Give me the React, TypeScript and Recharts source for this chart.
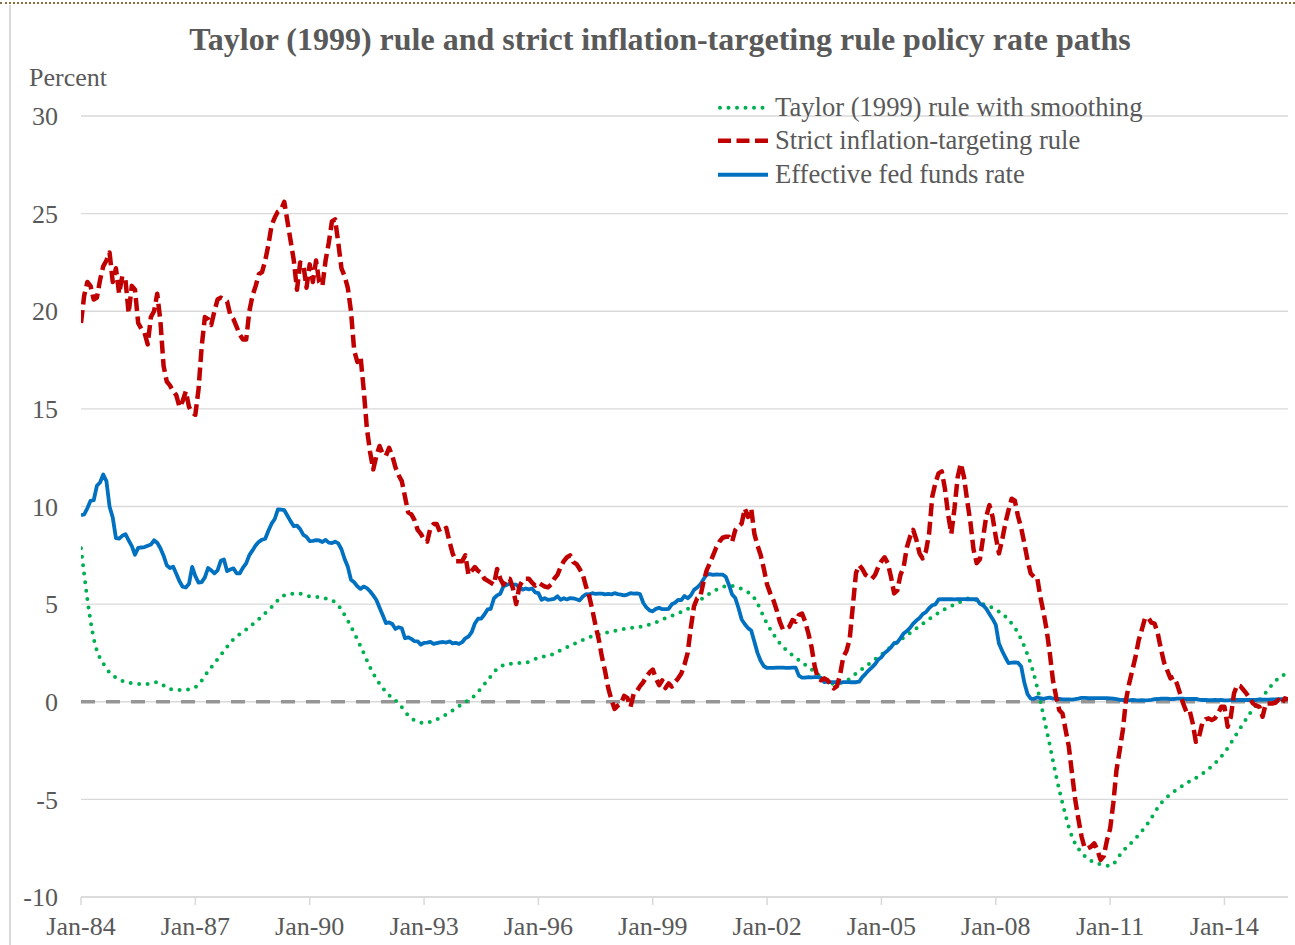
import { LineChart, Line, XAxis, YAxis, CartesianGrid, Legend } from 'recharts';

const FONT = '"Liberation Serif", "Times New Roman", serif';
const TEXT = '#595959';
const GRID = '#d9d9d9';

// month index 0 = Jan-84, last point = Sep-15
const LAST_MONTH = 380;

// Effective fed funds rate, monthly
const fedFunds = [
  9.56, 9.59, 9.91, 10.29, 10.32, 11.06, 11.23, 11.64, 11.3, 9.99, 9.43, 8.38,
  8.35, 8.5, 8.58, 8.27, 7.97, 7.53, 7.88, 7.9, 7.92, 7.99, 8.05, 8.27,
  8.14, 7.86, 7.48, 6.99, 6.85, 6.92, 6.56, 6.17, 5.89, 5.85, 6.04, 6.91,
  6.43, 6.1, 6.13, 6.37, 6.85, 6.73, 6.58, 6.73, 7.22, 7.29, 6.69, 6.77,
  6.83, 6.58, 6.58, 6.87, 7.09, 7.51, 7.75, 8.01, 8.19, 8.3, 8.35, 8.76,
  9.12, 9.36, 9.85, 9.84, 9.81, 9.53, 9.24, 8.99, 9.02, 8.84, 8.55, 8.45,
  8.23, 8.24, 8.28, 8.26, 8.18, 8.29, 8.15, 8.13, 8.2, 8.11, 7.81, 7.31,
  6.91, 6.25, 6.12, 5.91, 5.78, 5.9, 5.82, 5.66, 5.45, 5.21, 4.81, 4.43,
  4.03, 4.06, 3.98, 3.73, 3.82, 3.76, 3.25, 3.3, 3.22, 3.1, 3.09, 2.92,
  3.02, 3.03, 3.07, 2.96, 3.0, 3.04, 3.06, 3.03, 3.09, 2.99, 3.02, 2.96,
  3.05, 3.25, 3.34, 3.56, 4.01, 4.25, 4.26, 4.47, 4.73, 4.76, 5.29, 5.45,
  5.53, 5.92, 5.98, 6.05, 6.01, 6.0, 5.85, 5.74, 5.8, 5.76, 5.8, 5.6,
  5.56, 5.22, 5.31, 5.22, 5.24, 5.27, 5.4, 5.22, 5.3, 5.24, 5.31, 5.29,
  5.25, 5.19, 5.39, 5.51, 5.5, 5.56, 5.52, 5.54, 5.54, 5.5, 5.52, 5.5,
  5.56, 5.51, 5.49, 5.45, 5.49, 5.56, 5.54, 5.55, 5.51, 5.07, 4.83, 4.68,
  4.63, 4.76, 4.81, 4.74, 4.74, 4.76, 4.99, 5.07, 5.22, 5.2, 5.42, 5.3,
  5.45, 5.73, 5.85, 6.02, 6.27, 6.53, 6.54, 6.5, 6.52, 6.51, 6.51, 6.4,
  5.98, 5.49, 5.31, 4.8, 4.21, 3.97, 3.77, 3.65, 3.07, 2.49, 2.09, 1.82,
  1.73, 1.74, 1.73, 1.75, 1.75, 1.75, 1.73, 1.74, 1.75, 1.75, 1.34, 1.24,
  1.24, 1.26, 1.25, 1.26, 1.26, 1.22, 1.01, 1.03, 1.01, 1.01, 1.0, 0.98,
  1.0, 1.01, 1.0, 1.0, 1.0, 1.03, 1.26, 1.43, 1.61, 1.76, 1.93, 2.16,
  2.28, 2.5, 2.63, 2.79, 3.0, 3.04, 3.26, 3.5, 3.62, 3.78, 4.0, 4.16,
  4.29, 4.49, 4.59, 4.79, 4.94, 4.99, 5.24, 5.25, 5.25, 5.25, 5.25, 5.24,
  5.25, 5.26, 5.26, 5.25, 5.25, 5.25, 5.26, 5.02, 4.94, 4.76, 4.49, 4.24,
  3.94, 2.98, 2.61, 2.28, 1.98, 2.0, 2.01, 2.0, 1.81, 0.97, 0.39, 0.16,
  0.15, 0.22, 0.18, 0.15, 0.18, 0.21, 0.16, 0.16, 0.15, 0.12, 0.12, 0.12,
  0.11, 0.13, 0.16, 0.2, 0.2, 0.18, 0.18, 0.19, 0.19, 0.19, 0.19, 0.18,
  0.17, 0.16, 0.14, 0.1, 0.09, 0.09, 0.07, 0.1, 0.08, 0.07, 0.08, 0.07,
  0.08, 0.1, 0.13, 0.14, 0.16, 0.16, 0.16, 0.13, 0.14, 0.16, 0.16, 0.16,
  0.14, 0.15, 0.14, 0.15, 0.11, 0.09, 0.09, 0.08, 0.08, 0.09, 0.08, 0.09,
  0.07, 0.07, 0.08, 0.09, 0.09, 0.1, 0.09, 0.09, 0.09, 0.09, 0.09, 0.12,
  0.11, 0.11, 0.11, 0.12, 0.12, 0.13, 0.13, 0.14, 0.14,
];

// Strict inflation-targeting rule, monthly
const strictRule = [
  19.4, 20.8, 21.5, 21.3, 20.6, 20.7, 21.6, 22.3, 22.6, 23.0, 21.5, 22.2,
  20.9, 21.8, 21.6, 19.9, 21.3, 21.1, 19.4, 19.1, 18.9, 18.3, 19.7, 20.0,
  20.9, 19.5, 17.2, 16.4, 16.2, 15.9, 15.7, 15.1, 15.4, 15.9, 15.1, 14.8,
  14.7, 16.0, 18.2, 19.7, 19.6, 19.3, 20.0, 20.6, 20.7, 20.6, 20.5, 19.8,
  19.6, 19.2, 18.8, 18.55, 18.55, 20.0, 20.8, 21.3, 21.9, 22.0, 22.6, 23.4,
  24.4, 24.8, 25.1, 25.2, 25.6, 24.6, 23.6, 22.6, 21.1, 22.5, 22.4, 21.2,
  22.4, 21.5, 22.6, 21.5, 21.3, 22.6, 23.5, 24.6, 24.7, 23.5, 22.2, 21.8,
  21.2, 20.0, 18.0, 17.4, 17.7, 16.0, 14.0, 12.8, 11.9, 12.6, 13.1, 12.7,
  12.6, 13.0, 12.6, 12.0, 11.6, 11.3, 10.5, 9.7, 9.6, 9.3, 8.8, 8.6,
  8.3, 8.2, 8.9, 9.1, 9.1, 8.7, 8.8, 8.9, 8.2, 7.6, 7.2, 7.2,
  7.2, 7.5, 6.5, 6.7, 6.9, 6.7, 6.6, 6.3, 6.2, 6.1, 6.0, 6.8,
  6.3, 6.0, 6.3, 6.3, 5.8, 5.0, 5.9, 6.2, 6.3, 6.3, 6.1, 5.95,
  6.1, 6.0, 5.9, 5.86, 6.0, 6.3, 6.5, 6.9, 7.2, 7.4, 7.5, 7.15,
  7.05, 6.8, 6.5, 5.9, 5.4, 4.7, 3.9, 3.2, 2.3, 1.56, 0.7, 0.1,
  -0.37, -0.2, -0.1, 0.3, 0.2, -0.26, 0.4, 0.55, 0.8, 1.0, 1.28, 1.5,
  1.65, 1.2, 0.85, 1.1, 0.7, 0.94, 0.77, 1.0, 1.2, 1.45, 1.9, 2.5,
  3.8, 4.9, 5.3, 5.4, 6.14, 6.74, 7.1, 7.5, 7.9, 8.2, 8.4, 8.45,
  8.45, 8.2, 8.8, 9.0, 9.13, 9.9, 9.47, 9.9, 8.6, 8.0, 7.5, 6.8,
  6.0, 5.55, 5.2, 4.7, 4.1, 3.7, 3.75, 3.84, 4.18, 4.1, 4.44, 4.52,
  4.1, 3.5, 2.8, 1.8, 1.2, 1.1, 1.2, 1.1, 0.9, 0.68, 0.8, 1.4,
  2.3, 2.6, 3.2, 4.9, 6.6, 7.0, 6.8, 6.5, 6.4, 6.3, 6.5, 6.9,
  7.2, 7.4, 7.1, 6.4, 5.55, 5.7, 6.5, 6.9, 7.9, 8.45, 8.8, 8.3,
  7.6, 7.34, 7.7, 8.6, 10.5, 11.2, 11.7, 11.8, 10.9, 9.6, 8.6, 9.9,
  11.5, 12.2, 11.5, 10.3, 9.2, 7.8, 7.1, 7.3, 8.4, 9.5, 10.07, 9.47,
  8.45, 7.6, 8.28, 9.13, 9.8, 10.4, 10.3, 9.5, 8.9, 8.1, 7.25, 6.57,
  6.4, 6.4, 5.4, 4.6, 3.7, 2.5, 1.1, 0.26, -0.43, -0.6, -1.45, -2.3,
  -3.67, -5.0, -6.0, -6.9, -7.5, -7.5, -7.42, -7.25, -7.6, -8.1, -7.9, -7.1,
  -6.5, -5.2, -3.5, -2.5, -1.45, 0.09, 0.94, 1.62, 2.3, 3.16, 3.7, 4.3,
  4.3, 4.05, 4.0, 3.5, 2.7, 2.0, 1.6, 1.2, 1.28, 0.94, 0.43, -0.09,
  -0.51, -0.43, -1.1, -2.05, -1.8, -1.1, -0.9, -0.85, -0.94, -0.85, -0.6, -0.26,
  -0.26, -1.28, -0.77, 0.43, 0.85, 0.8, 0.6, 0.4, 0.15, -0.09, -0.2, -0.26,
  -0.77, -0.09, -0.09, -0.09, -0.05, 0.1, -0.09, 0.17, 0.1,
];

// Taylor (1999) rule with smoothing, read every 4 months
const TAYLOR_STEP = 4;
const taylorRule = [
  7.86, 3.25, 1.72, 1.15, 0.95, 0.9, 1.0, 0.65, 0.6, 0.75,
  1.55, 2.39, 3.2, 3.7, 4.24, 4.85, 5.45, 5.55, 5.4, 5.33,
  5.1, 4.15, 2.85, 1.45, 0.5, -0.08, -0.85, -1.08, -0.9, -0.55,
  -0.12, 0.33, 1.1, 1.8, 1.96, 2.0, 2.25, 2.4, 2.72, 3.02,
  3.3, 3.49, 3.63, 3.76, 3.84, 4.0, 4.28, 4.53, 4.85, 5.33,
  5.73, 5.94, 5.78, 5.3, 4.0, 3.0, 2.38, 1.9, 1.4, 0.92,
  1.0, 1.45, 1.93, 2.42, 2.93, 3.4, 3.88, 4.35, 4.75, 5.05,
  5.3, 5.0, 4.72, 4.2, 3.2, 1.4, -1.45, -4.52, -6.9, -7.9,
  -8.28, -8.4, -7.65, -7.0, -6.2, -5.2, -4.62, -4.18, -3.8, -3.3,
  -2.6, -1.6, -0.6, 0.25, 1.05, 1.5,
];

const tickMonths = [0, 36, 72, 108, 144, 180, 216, 252, 288, 324, 360];
const tickLabels = ['Jan-84', 'Jan-87', 'Jan-90', 'Jan-93', 'Jan-96', 'Jan-99', 'Jan-02', 'Jan-05', 'Jan-08', 'Jan-11', 'Jan-14'];
const yTicks = [-10, -5, 0, 5, 10, 15, 20, 25, 30];

const toPoints = (values: number[], step = 1) =>
  values.map((value, i) => ({ month: i * step, value }));

const taylorData = toPoints(taylorRule, TAYLOR_STEP);
const strictData = toPoints(strictRule);
const fedFundsData = toPoints(fedFunds);
const zeroData = [{ month: 0, value: 0 }, { month: LAST_MONTH, value: 0 }];

const series = [
  { key: 'taylor', name: 'Taylor (1999) rule with smoothing', color: '#00b050', width: 4, dash: '0 8.5', cap: 'round' as const },
  { key: 'strict', name: 'Strict inflation-targeting rule', color: '#c00000', width: 4.5, dash: '13 5.5', cap: 'butt' as const },
  { key: 'effr', name: 'Effective fed funds rate', color: '#0070c0', width: 3.8, dash: undefined, cap: 'butt' as const },
];

function LegendBox() {
  return (
    <div style={{ fontFamily: FONT, fontSize: 26.6, color: TEXT }}>
      {series.map((s) => (
        <div key={s.key} style={{ display: 'flex', alignItems: 'center', height: 33.5, whiteSpace: 'nowrap' }}>
          <svg width={50} height={33.5} style={{ marginRight: 7, flex: 'none' }}>
            <line
              x1={s.cap === 'round' ? 2 : 0}
              x2={50}
              y1={16.75}
              y2={16.75}
              stroke={s.color}
              strokeWidth={s.width}
              strokeDasharray={s.dash}
              strokeLinecap={s.cap}
            />
          </svg>
          <span style={{ lineHeight: '33.5px' }}>{s.name}</span>
        </div>
      ))}
    </div>
  );
}

const tickStyle = { fontFamily: FONT, fontSize: 26, fill: TEXT };

export default function App() {
  return (
    <div style={{ position: 'absolute', left: 0, top: 0, width: 1295, height: 945, background: '#fff', overflow: 'hidden' }}>
      {/* frame bits from the original screenshot */}
      <div style={{ position: 'absolute', left: 0, top: 2, width: 1295, borderTop: '2px dotted #8c6d3f' }} />
      <div style={{ position: 'absolute', left: 9, top: 5, height: 940, borderLeft: '2px solid #d9d9d9' }} />

      <div
        style={{
          position: 'absolute', left: 25, top: 19, width: 1270, textAlign: 'center',
          fontFamily: FONT, fontSize: 32, fontWeight: 'bold', lineHeight: '40px', color: TEXT,
        }}
      >
        Taylor (1999) rule and strict inflation-targeting rule policy rate paths
      </div>
      <div style={{ position: 'absolute', left: 29, top: 63, fontFamily: FONT, fontSize: 26, lineHeight: '30px', color: TEXT }}>
        Percent
      </div>

      <LineChart width={1295} height={945} margin={{ top: 116, right: 7, bottom: 8, left: 0 }}>
        <CartesianGrid vertical={false} stroke={GRID} strokeWidth={1.3} />
        <XAxis
          dataKey="month"
          type="number"
          domain={[0, LAST_MONTH]}
          ticks={tickMonths}
          interval={0}
          tickFormatter={(m: number) => tickLabels[tickMonths.indexOf(m)]}
          height={40}
          tickSize={8}
          tickMargin={12}
          axisLine={{ stroke: GRID, strokeWidth: 1.5 }}
          tickLine={{ stroke: GRID, strokeWidth: 1.5 }}
          tick={tickStyle}
          allowDataOverflow
        />
        <YAxis
          type="number"
          domain={[-10, 30]}
          ticks={yTicks}
          interval={0}
          width={81}
          axisLine={false}
          tickLine={false}
          tickSize={0}
          tickMargin={23}
          tick={tickStyle}
          allowDataOverflow
        />
        <Legend
          layout="vertical"
          align="center"
          verticalAlign="middle"
          content={() => <LegendBox />}
          wrapperStyle={{ left: 718, top: 90.5, width: 'auto' }}
        />
        <Line
          data={zeroData}
          dataKey="value"
          stroke="#969696"
          strokeWidth={3.5}
          strokeDasharray="14 11"
          dot={false}
          activeDot={false}
          legendType="none"
          isAnimationActive={false}
        />
        <Line
          data={taylorData}
          dataKey="value"
          name={series[0].name}
          type="monotone"
          stroke={series[0].color}
          strokeWidth={series[0].width}
          strokeDasharray={series[0].dash}
          strokeLinecap="round"
          dot={false}
          activeDot={false}
          isAnimationActive={false}
        />
        <Line
          data={fedFundsData}
          dataKey="value"
          name={series[2].name}
          type="linear"
          stroke={series[2].color}
          strokeWidth={series[2].width}
          strokeLinejoin="round"
          dot={false}
          activeDot={false}
          isAnimationActive={false}
        />
        <Line
          data={strictData}
          dataKey="value"
          name={series[1].name}
          type="linear"
          stroke={series[1].color}
          strokeWidth={series[1].width}
          strokeDasharray={series[1].dash}
          strokeLinejoin="round"
          dot={false}
          activeDot={false}
          isAnimationActive={false}
        />
      </LineChart>
    </div>
  );
}
